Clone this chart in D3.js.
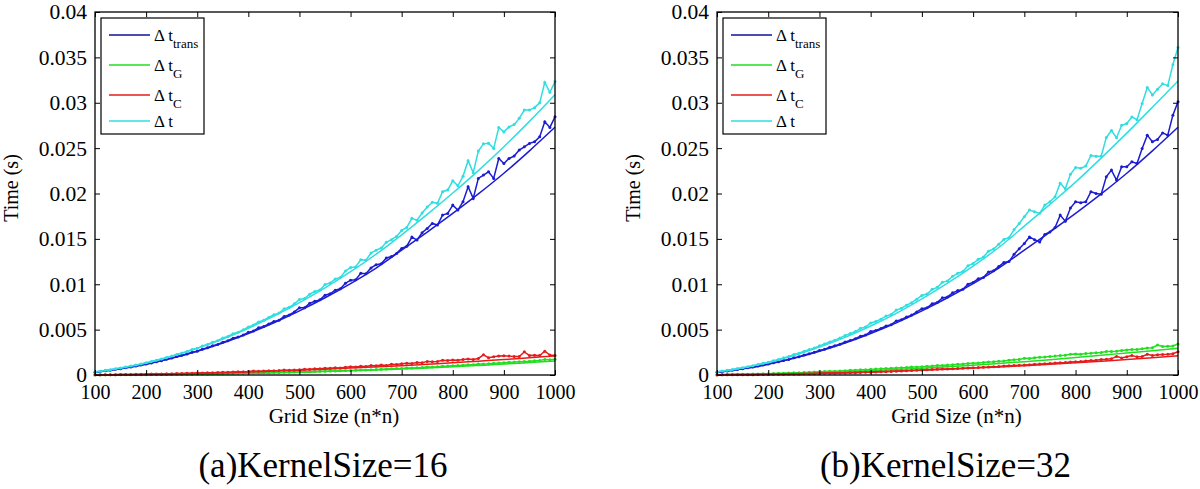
<!DOCTYPE html>
<html>
<head>
<meta charset="utf-8">
<script src="https://cdn.jsdelivr.net/npm/d3@7/dist/d3.min.js"></script>
<style>
  html, body { margin: 0; padding: 0; background: #fff; }
  svg { display: block; }
</style>
</head>
<body>
<svg id="chart" width="1200" height="489"></svg>
<script>
// ---------- data ----------
const gridSizes = d3.range(100, 1001, 10);           // measured grid sizes (n)
const fitSizes = [100,150,200,250,300,350,400,450,500,550,600,650,700,750,800,850,900,950,1000];
const xTickValues = [100,200,300,400,500,600,700,800,900,1000];
const yTickValues = [0,0.005,0.01,0.015,0.02,0.025,0.03,0.035,0.04];
const yTickLabels = ["0","0.005","0.01","0.015","0.02","0.025","0.03","0.035","0.04"];
const seriesNames = ["trans","G","C",""];
const panelCaptions = ["(a)KernelSize=16","(b)KernelSize=32"];

// KernelSize = 16
const k16TransMeasured = [0.00031,0.00038,0.00046,0.00053,0.00062,0.00070,0.00080,0.00089,0.00099,0.00110,
 0.00122,0.00133,0.00146,0.00158,0.00173,0.00186,0.00203,0.00217,0.00232,0.00252,
 0.00262,0.00285,0.00300,0.00322,0.00336,0.00362,0.00378,0.00405,0.00418,0.00442,
 0.00470,0.00485,0.00520,0.00535,0.00562,0.00590,0.00604,0.00645,0.00662,0.00695,
 0.00740,0.00742,0.00790,0.00812,0.00828,0.00880,0.00895,0.00935,0.00950,0.01010,
 0.01045,0.01050,0.01120,0.01115,0.01180,0.01215,0.01225,0.01290,0.01305,0.01340,
 0.01395,0.01420,0.01520,0.01487,0.01567,0.01615,0.01670,0.01652,0.01762,0.01780,
 0.01872,0.01817,0.01909,0.02074,0.01946,0.02166,0.02203,0.02239,0.02166,0.02386,
 0.02331,0.02386,0.02412,0.02478,0.02514,0.02552,0.02570,0.02624,0.02790,0.02728,
 0.02845];
const k16GMeasured = [0.00001,0.00001,0.00002,0.00002,0.00002,0.00003,0.00003,0.00003,0.00003,0.00004,
 0.00004,0.00005,0.00005,0.00006,0.00006,0.00007,0.00007,0.00008,0.00009,0.00009,
 0.00010,0.00011,0.00012,0.00013,0.00014,0.00015,0.00016,0.00017,0.00018,0.00019,
 0.00020,0.00022,0.00023,0.00024,0.00026,0.00027,0.00028,0.00030,0.00031,0.00033,
 0.00034,0.00036,0.00037,0.00039,0.00041,0.00042,0.00044,0.00045,0.00047,0.00049,
 0.00050,0.00052,0.00055,0.00056,0.00059,0.00060,0.00064,0.00066,0.00068,0.00071,
 0.00073,0.00076,0.00078,0.00081,0.00083,0.00087,0.00089,0.00092,0.00096,0.00098,
 0.00103,0.00105,0.00108,0.00112,0.00114,0.00120,0.00122,0.00125,0.00130,0.00131,
 0.00136,0.00140,0.00142,0.00147,0.00150,0.00152,0.00158,0.00160,0.00172,0.00168,
 0.00173];
const k16CMeasured = [0.00002,0.00002,0.00003,0.00003,0.00004,0.00005,0.00005,0.00006,0.00007,0.00008,
 0.00009,0.00010,0.00011,0.00012,0.00013,0.00015,0.00016,0.00017,0.00019,0.00020,
 0.00022,0.00023,0.00025,0.00026,0.00028,0.00030,0.00031,0.00033,0.00035,0.00037,
 0.00039,0.00043,0.00042,0.00045,0.00046,0.00048,0.00050,0.00054,0.00053,0.00056,
 0.00058,0.00064,0.00063,0.00069,0.00068,0.00074,0.00074,0.00079,0.00078,0.00086,
 0.00090,0.00089,0.00096,0.00094,0.00104,0.00101,0.00110,0.00106,0.00118,0.00116,
 0.00125,0.00130,0.00128,0.00138,0.00135,0.00150,0.00145,0.00148,0.00162,0.00160,
 0.00165,0.00163,0.00172,0.00175,0.00170,0.00182,0.00222,0.00190,0.00200,0.00210,
 0.00212,0.00208,0.00205,0.00203,0.00255,0.00215,0.00218,0.00215,0.00262,0.00220,
 0.00215];
const k16TotalMeasured = [0.00034,0.00041,0.00051,0.00058,0.00068,0.00078,0.00088,0.00098,0.00109,0.00122,
 0.00135,0.00148,0.00162,0.00176,0.00192,0.00208,0.00226,0.00242,0.00260,0.00281,
 0.00294,0.00319,0.00337,0.00361,0.00378,0.00407,0.00425,0.00455,0.00471,0.00498,
 0.00529,0.00550,0.00585,0.00604,0.00634,0.00665,0.00682,0.00729,0.00746,0.00784,
 0.00832,0.00842,0.00890,0.00920,0.00937,0.00996,0.01013,0.01059,0.01075,0.01145,
 0.01185,0.01191,0.01271,0.01265,0.01343,0.01376,0.01399,0.01462,0.01491,0.01527,
 0.01593,0.01626,0.01726,0.01706,0.01785,0.01852,0.01904,0.01892,0.02020,0.02038,
 0.02140,0.02085,0.02189,0.02361,0.02230,0.02468,0.02547,0.02554,0.02496,0.02727,
 0.02679,0.02734,0.02759,0.02828,0.02919,0.02919,0.02946,0.02999,0.03224,0.03116,
 0.03233];
const k16TransFit = [0.00031,0.00068,0.00118,0.00183,0.00261,0.00352,0.00457,0.00575,0.00707,0.00851,
 0.01008,0.01179,0.01375,0.01575,0.01780,0.01995,0.02223,0.02470,0.02730];
const k16GFit = [0.00001,0.00002,0.00004,0.00006,0.00009,0.00013,0.00018,0.00024,0.00031,0.00038,
 0.00046,0.00055,0.00066,0.00078,0.00091,0.00105,0.00120,0.00137,0.00155];
const k16CFit = [0.00002,0.00005,0.00008,0.00013,0.00019,0.00026,0.00034,0.00043,0.00053,0.00064,
 0.00076,0.00089,0.00103,0.00118,0.00134,0.00152,0.00170,0.00190,0.00210];
const k16TotalFit = [0.00035,0.00076,0.00132,0.00206,0.00293,0.00396,0.00515,0.00648,0.00797,0.00960,
 0.01138,0.01331,0.01545,0.01770,0.02005,0.02252,0.02515,0.02795,0.03090];

// KernelSize = 32
const k32TransMeasured = [0.00030,0.00037,0.00045,0.00053,0.00061,0.00070,0.00079,0.00089,0.00100,0.00110,
 0.00120,0.00134,0.00145,0.00160,0.00172,0.00190,0.00202,0.00220,0.00235,0.00250,
 0.00270,0.00285,0.00305,0.00322,0.00340,0.00365,0.00380,0.00400,0.00428,0.00440,
 0.00480,0.00490,0.00512,0.00540,0.00555,0.00595,0.00610,0.00640,0.00660,0.00695,
 0.00730,0.00740,0.00785,0.00800,0.00850,0.00860,0.00905,0.00930,0.00945,0.01000,
 0.01020,0.01060,0.01075,0.01135,0.01150,0.01195,0.01240,0.01250,0.01330,0.01390,
 0.01449,0.01521,0.01491,0.01466,0.01549,0.01577,0.01625,0.01762,0.01695,0.01840,
 0.01909,0.01898,0.01909,0.02019,0.02001,0.01993,0.02184,0.02258,0.02148,0.02294,
 0.02294,0.02349,0.02331,0.02497,0.02643,0.02570,0.02596,0.02668,0.02643,0.02863,
 0.03010];
const k32GMeasured = [0.00003,0.00004,0.00005,0.00006,0.00007,0.00008,0.00009,0.00010,0.00012,0.00013,
 0.00015,0.00016,0.00018,0.00020,0.00022,0.00024,0.00026,0.00028,0.00031,0.00033,
 0.00035,0.00038,0.00040,0.00042,0.00045,0.00048,0.00051,0.00053,0.00058,0.00059,
 0.00062,0.00066,0.00068,0.00072,0.00074,0.00078,0.00081,0.00083,0.00088,0.00089,
 0.00092,0.00096,0.00099,0.00104,0.00106,0.00110,0.00113,0.00118,0.00120,0.00126,
 0.00129,0.00133,0.00138,0.00142,0.00146,0.00152,0.00155,0.00162,0.00168,0.00172,
 0.00184,0.00182,0.00190,0.00195,0.00198,0.00204,0.00208,0.00215,0.00218,0.00228,
 0.00231,0.00230,0.00238,0.00240,0.00246,0.00248,0.00260,0.00258,0.00262,0.00270,
 0.00275,0.00280,0.00282,0.00290,0.00298,0.00300,0.00330,0.00315,0.00318,0.00320,
 0.00341];
const k32CMeasured = [0.00001,0.00002,0.00002,0.00002,0.00003,0.00003,0.00004,0.00004,0.00005,0.00006,
 0.00006,0.00007,0.00008,0.00009,0.00010,0.00011,0.00012,0.00013,0.00014,0.00015,
 0.00016,0.00018,0.00019,0.00020,0.00022,0.00023,0.00025,0.00026,0.00028,0.00030,
 0.00031,0.00033,0.00035,0.00037,0.00039,0.00042,0.00044,0.00046,0.00049,0.00052,
 0.00055,0.00057,0.00060,0.00062,0.00065,0.00067,0.00070,0.00072,0.00075,0.00077,
 0.00080,0.00082,0.00086,0.00088,0.00092,0.00094,0.00098,0.00101,0.00104,0.00108,
 0.00110,0.00114,0.00118,0.00120,0.00125,0.00128,0.00131,0.00136,0.00138,0.00143,
 0.00147,0.00150,0.00155,0.00160,0.00163,0.00170,0.00173,0.00178,0.00205,0.00188,
 0.00202,0.00215,0.00200,0.00205,0.00228,0.00215,0.00222,0.00226,0.00228,0.00235,
 0.00257];
const k32TotalMeasured = [0.00034,0.00043,0.00052,0.00061,0.00071,0.00081,0.00092,0.00103,0.00117,0.00129,
 0.00141,0.00157,0.00171,0.00189,0.00204,0.00225,0.00240,0.00261,0.00280,0.00298,
 0.00321,0.00341,0.00364,0.00384,0.00407,0.00436,0.00456,0.00479,0.00514,0.00529,
 0.00573,0.00589,0.00615,0.00649,0.00668,0.00715,0.00735,0.00769,0.00797,0.00836,
 0.00877,0.00893,0.00944,0.00966,0.01021,0.01037,0.01088,0.01120,0.01140,0.01203,
 0.01229,0.01275,0.01299,0.01365,0.01388,0.01441,0.01493,0.01513,0.01602,0.01670,
 0.01743,0.01817,0.01799,0.01781,0.01872,0.01909,0.01964,0.02113,0.02051,0.02211,
 0.02287,0.02278,0.02302,0.02419,0.02410,0.02411,0.02617,0.02694,0.02615,0.02752,
 0.02771,0.02844,0.02813,0.02992,0.03169,0.03085,0.03148,0.03209,0.03189,0.03418,
 0.03608];
const k32TransFit = [0.00031,0.00068,0.00118,0.00183,0.00261,0.00352,0.00457,0.00575,0.00707,0.00851,
 0.01008,0.01179,0.01375,0.01575,0.01780,0.01995,0.02223,0.02470,0.02730];
const k32GFit = [0.00003,0.00007,0.00012,0.00019,0.00027,0.00037,0.00048,0.00061,0.00075,0.00091,
 0.00108,0.00127,0.00147,0.00169,0.00192,0.00217,0.00243,0.00268,0.00295];
const k32CFit = [0.00002,0.00005,0.00008,0.00013,0.00019,0.00026,0.00034,0.00043,0.00053,0.00064,
 0.00076,0.00089,0.00103,0.00118,0.00134,0.00152,0.00170,0.00190,0.00213];
const k32TotalFit = [0.00035,0.00078,0.00137,0.00215,0.00307,0.00415,0.00540,0.00680,0.00838,0.01012,
 0.01200,0.01405,0.01640,0.01880,0.02125,0.02390,0.02665,0.02950,0.03240];

// ---------- drawing ----------
const FONT = "'Times New Roman', 'Liberation Serif', 'DejaVu Serif', serif";
const colors = ["#1c1cd2", "#22dd22", "#e41c1c", "#30dde0"];
const legendColors = ["#10109a", "#22dd22", "#e41c1c", "#30dde0"];

const panels = [
  { left: 95, right: 555, measured: [k16TransMeasured, k16GMeasured, k16CMeasured, k16TotalMeasured],
    fits: [k16TransFit, k16GFit, k16CFit, k16TotalFit], caption: panelCaptions[0] },
  { left: 717, right: 1178, measured: [k32TransMeasured, k32GMeasured, k32CMeasured, k32TotalMeasured],
    fits: [k32TransFit, k32GFit, k32CFit, k32TotalFit], caption: panelCaptions[1] }
];
const plotTop = 12, plotBottom = 375;
const svg = d3.select("#chart").attr("font-family", FONT);

panels.forEach(p => {
  const x = d3.scaleLinear().domain([100, 1000]).range([p.left, p.right]);
  const y = d3.scaleLinear().domain([0, 0.04]).range([plotBottom, plotTop]);
  const g = svg.append("g");
  const cx = (p.left + p.right) / 2;

  const lineM = d3.line().x((d, i) => x(gridSizes[i])).y(d => y(d));
  const lineF = d3.line().x((d, i) => x(fitSizes[i])).y(d => y(d)).curve(d3.curveMonotoneX);
  [1, 2, 0, 3].forEach(si => {
    g.append("path").attr("d", lineF(p.fits[si])).attr("fill", "none")
      .attr("stroke", colors[si]).attr("stroke-width", 1.5);
    g.append("path").attr("d", lineM(p.measured[si])).attr("fill", "none")
      .attr("stroke", colors[si]).attr("stroke-width", 1.5);
    g.append("g").selectAll("circle").data(p.measured[si]).join("circle")
      .attr("cx", (d, i) => x(gridSizes[i])).attr("cy", d => y(d)).attr("r", 1.5)
      .attr("fill", colors[si]);
  });

  const fmt = v => yTickLabels[yTickValues.indexOf(v)];
  const ax = g.append("g").attr("transform", `translate(0,${plotBottom})`)
    .call(d3.axisBottom(x).tickValues(xTickValues).tickSize(-5).tickSizeOuter(0).tickPadding(10).tickFormat(d3.format("d")));
  const ay = g.append("g").attr("transform", `translate(${p.left},0)`)
    .call(d3.axisLeft(y).tickValues(yTickValues).tickSize(-5).tickSizeOuter(0).tickPadding(8).tickFormat(fmt));
  g.append("g").attr("transform", `translate(0,${plotTop})`)
    .call(d3.axisTop(x).tickValues(xTickValues).tickSize(-5).tickSizeOuter(0).tickFormat(""));
  g.append("g").attr("transform", `translate(${p.right},0)`)
    .call(d3.axisRight(y).tickValues(yTickValues).tickSize(-5).tickSizeOuter(0).tickFormat(""));
  g.selectAll(".domain").remove();
  g.selectAll(".tick line").attr("stroke", "#000").attr("stroke-width", 1);
  g.selectAll("g").attr("font-family", FONT);
  ax.selectAll("text").attr("font-size", 20).attr("fill", "#000");
  ay.selectAll("text").attr("font-size", 21.5).attr("fill", "#000");
  g.append("rect").attr("x", p.left).attr("y", plotTop).attr("width", p.right - p.left)
    .attr("height", plotBottom - plotTop).attr("fill", "none").attr("stroke", "#000").attr("stroke-width", 1.3);

  g.append("text").attr("x", cx + 9).attr("y", 423).attr("text-anchor", "middle")
    .attr("font-size", 21).text("Grid Size (n*n)");
  g.append("text").attr("transform", `translate(${p.left - 77},${188}) rotate(-90)`)
    .attr("text-anchor", "middle").attr("font-size", 20).text("Time (s)");
  g.append("text").attr("x", cx - 2).attr("y", 477).attr("text-anchor", "middle")
    .attr("font-size", 35).text(p.caption);

  const lx = p.left + 6, ly = plotTop + 6;
  g.append("rect").attr("x", lx).attr("y", ly).attr("width", 103).attr("height", 116)
    .attr("fill", "#fff").attr("stroke", "#000").attr("stroke-width", 1.2);
  const rowY = [35, 65, 95, 121];
  seriesNames.forEach((name, i) => {
    g.append("line").attr("x1", lx + 8).attr("x2", lx + 49).attr("y1", rowY[i]).attr("y2", rowY[i])
      .attr("stroke", legendColors[i]).attr("stroke-width", 1.5);
    const t = g.append("text").attr("x", lx + 53).attr("y", rowY[i] + 6).attr("font-size", 17);
    t.append("tspan").text("\u0394 t");
    if (name) t.append("tspan").attr("dy", 7).attr("font-size", 13).text(name);
  });
});
</script>
</body>
</html>
